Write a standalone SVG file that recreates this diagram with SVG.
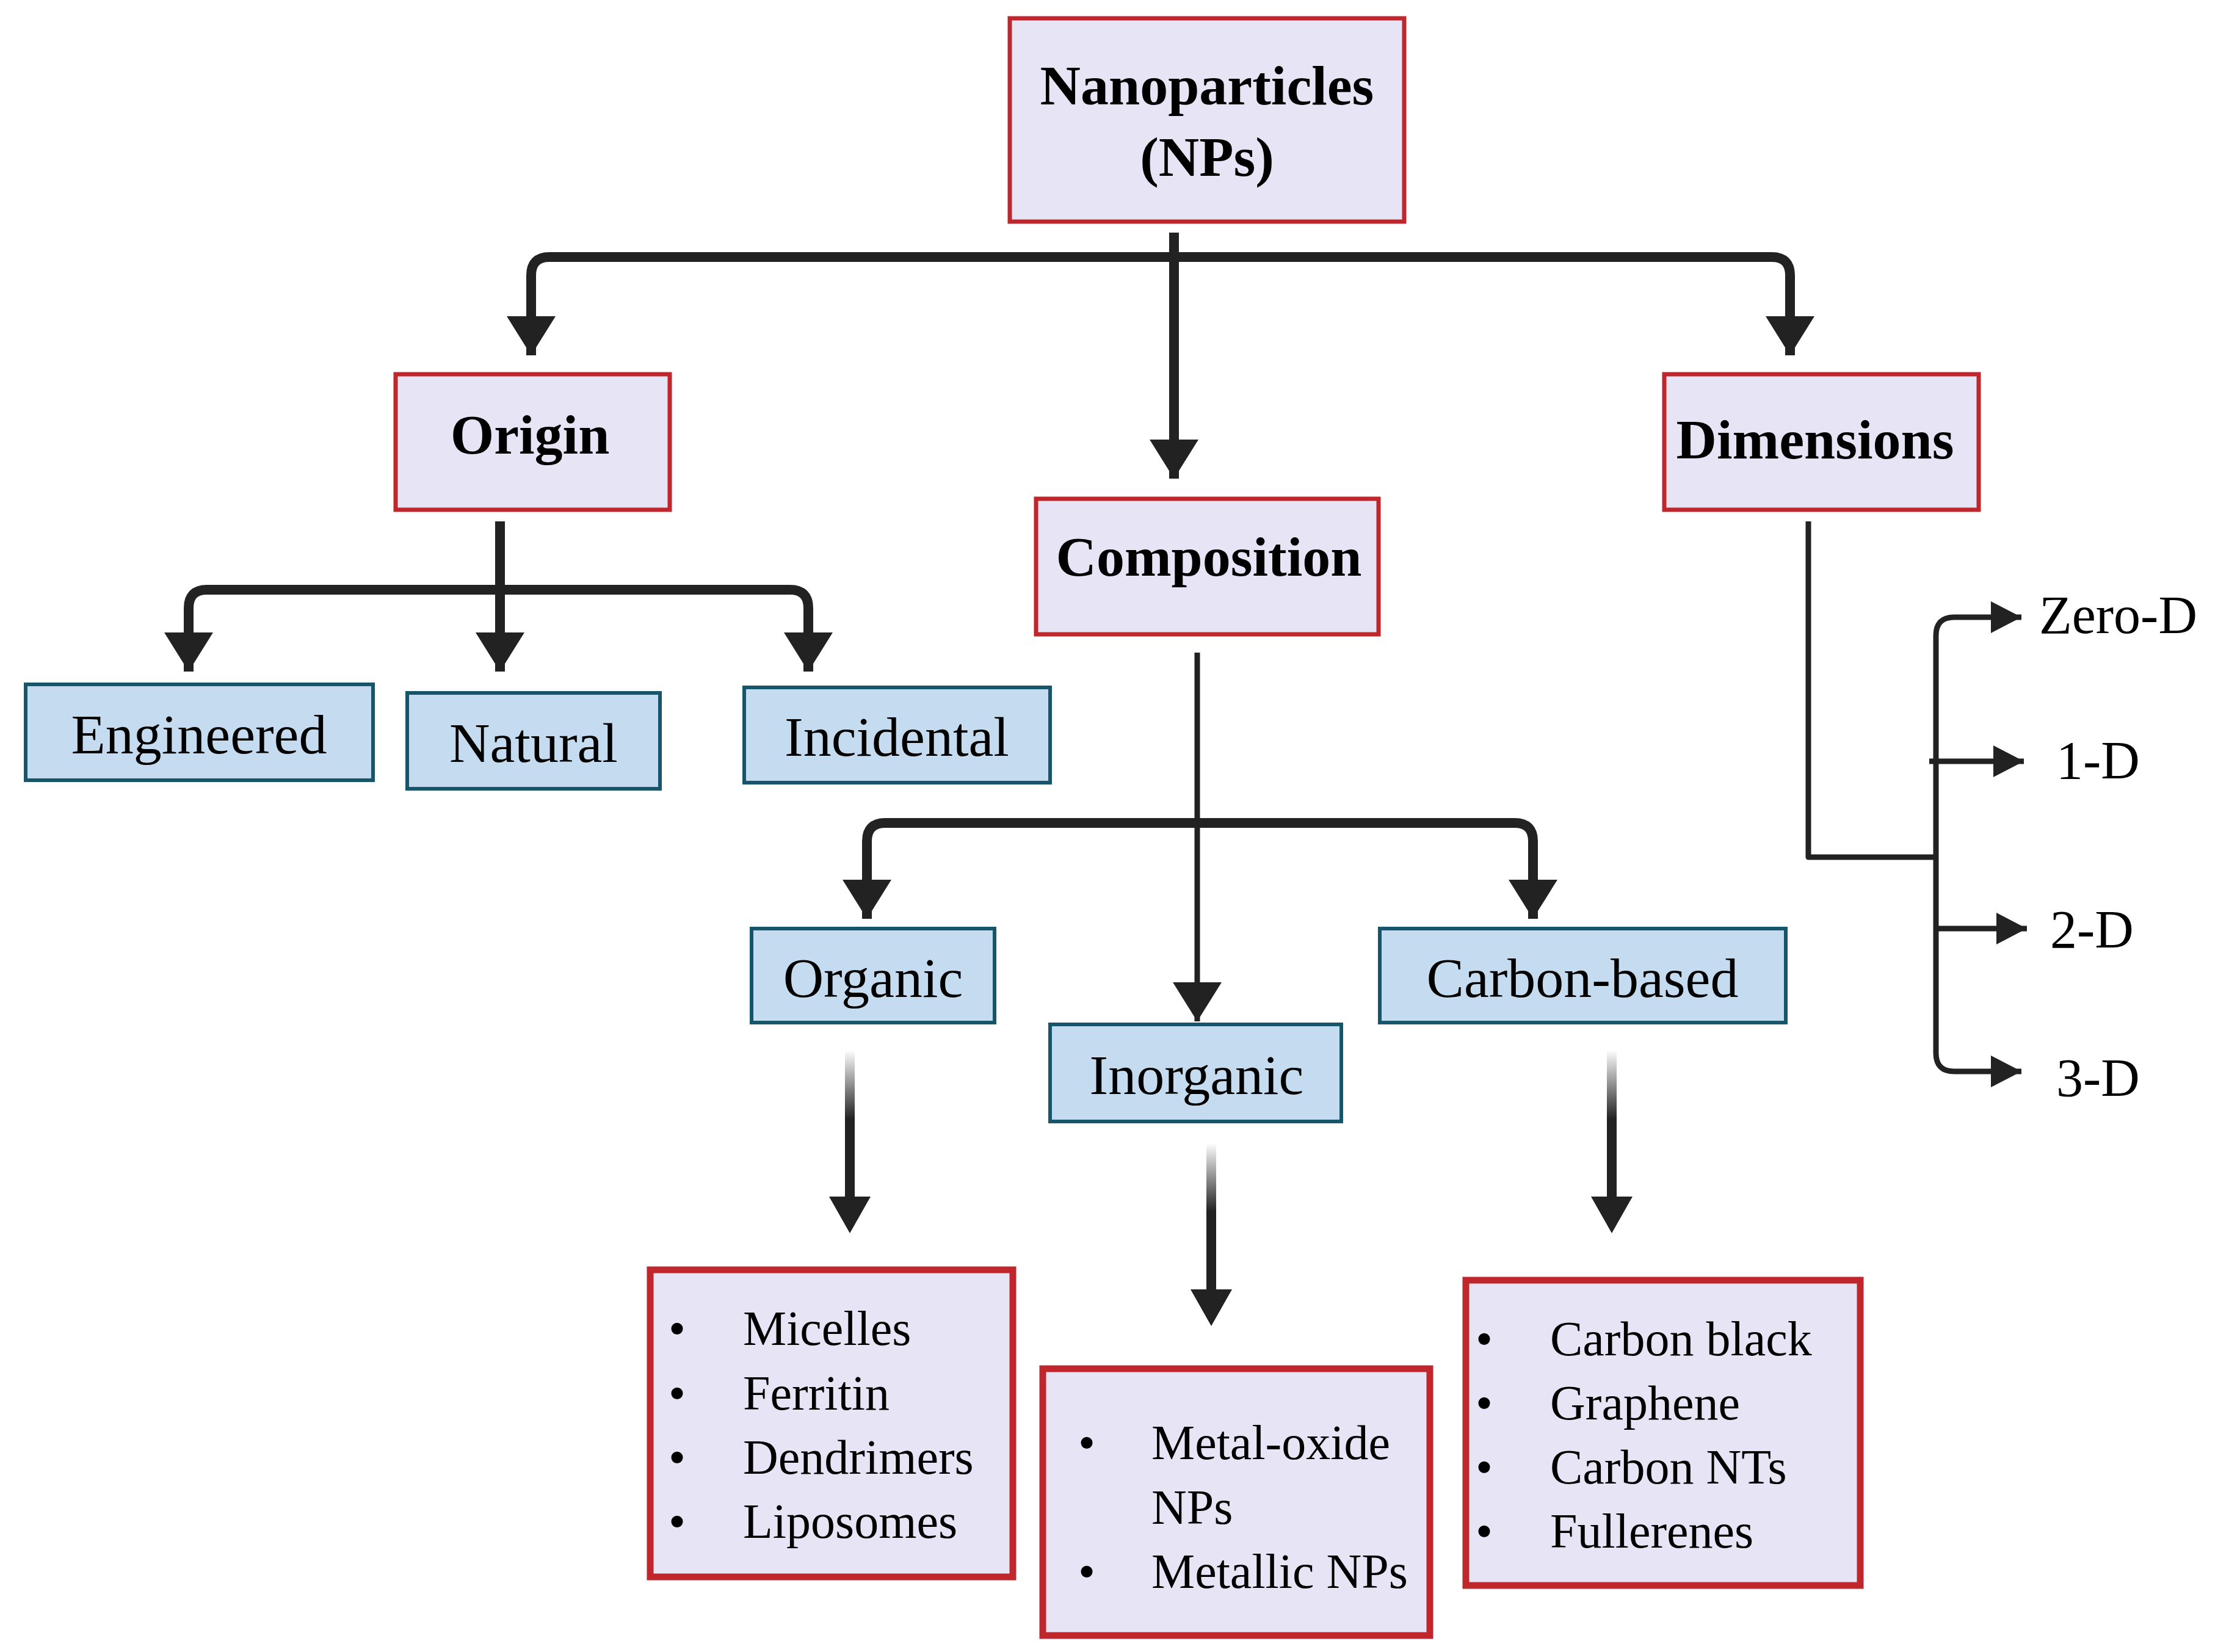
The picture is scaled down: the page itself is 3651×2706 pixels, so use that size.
<svg xmlns="http://www.w3.org/2000/svg" width="3651" height="2706" viewBox="0 0 3651 2706">
<style>
.hb{fill:#e6e4f5;stroke:#c0272d;stroke-width:7}
.lb{fill:#e6e4f5;stroke:#c0272d;stroke-width:11}
.bb{fill:#c5dcf0;stroke:#17566a;stroke-width:6}
.h{font-family:"Liberation Serif",serif;font-weight:bold;font-size:92px;fill:#000;text-anchor:middle;dominant-baseline:central}
.n{font-family:"Liberation Serif",serif;font-size:92px;fill:#000;text-anchor:middle;dominant-baseline:central}
.l{font-family:"Liberation Serif",serif;font-size:80px;fill:#000;dominant-baseline:central}
.d{font-family:"Liberation Serif",serif;font-size:88px;fill:#000;dominant-baseline:central}
.c{fill:none;stroke:#222;stroke-width:16;stroke-linejoin:round}
.t{fill:none;stroke:#222;stroke-width:9;stroke-linejoin:round}
.ah{fill:#222}
</style>
<defs>
<marker id="a" markerUnits="userSpaceOnUse" markerWidth="64" markerHeight="80" viewBox="0 0 64 80" refX="64" refY="40" orient="auto"><path d="M0,0 L64,40 L0,80 Z" fill="#222"/></marker>
<marker id="s" markerUnits="userSpaceOnUse" markerWidth="50" markerHeight="52" viewBox="0 0 50 52" refX="50" refY="26" orient="auto"><path d="M0,0 L50,26 L0,52 Z" fill="#222"/></marker>
<linearGradient id="g" x1="0" y1="0" x2="0" y2="1"><stop offset="0" stop-color="#fff"/><stop offset="0.45" stop-color="#222"/><stop offset="1" stop-color="#222"/></linearGradient>
</defs>
<g id="connectors">
<path class="c" d="M1923,381 V784" marker-end="url(#a)"/>
<path class="c" d="M1923,421 H900 Q870,421 870,451 V582" marker-end="url(#a)"/>
<path class="c" d="M1923,421 H2902 Q2932,421 2932,451 V582" marker-end="url(#a)"/>
<path class="c" d="M819,854 V1100" marker-end="url(#a)"/>
<path class="c" d="M819,966 H339 Q309,966 309,996 V1100" marker-end="url(#a)"/>
<path class="c" d="M819,966 H1294 Q1324,966 1324,996 V1100" marker-end="url(#a)"/>
<path class="t" d="M1961,1069 V1673" marker-end="url(#a)"/>
<path class="c" d="M1961,1348 H1450 Q1420,1348 1420,1378 V1505" marker-end="url(#a)"/>
<path class="c" d="M1961,1348 H2481 Q2511,1348 2511,1378 V1505" marker-end="url(#a)"/>
<rect x="1384" y="1720" width="16" height="250" fill="url(#g)"/>
<path class="ah" d="M1358,1960 L1426,1960 L1392,2020 Z"/>
<rect x="1976" y="1872" width="16" height="250" fill="url(#g)"/>
<path class="ah" d="M1950,2112 L2018,2112 L1984,2172 Z"/>
<rect x="2632" y="1720" width="16" height="250" fill="url(#g)"/>
<path class="ah" d="M2606,1960 L2674,1960 L2640,2020 Z"/>
<path class="t" d="M2962,854 V1404 H3171"/>
<path class="t" d="M3171,1041 Q3171,1011 3201,1011 H3311" marker-end="url(#s)"/>
<path class="t" d="M3171,1041 V1725 Q3171,1755 3201,1755 H3311" marker-end="url(#s)"/>
<path class="t" d="M3160,1247 H3315" marker-end="url(#s)"/>
<path class="t" d="M3171,1521 H3320" marker-end="url(#s)"/>
</g>
<g id="nanoparticles"><rect class="hb" x="1654" y="30" width="646" height="333"/><text class="h" x="1977" y="140">Nanoparticles</text><text class="h" x="1977" y="257">(NPs)</text></g>
<g id="origin"><rect class="hb" x="648" y="613" width="449" height="222"/><text class="h" x="868" y="712">Origin</text></g>
<g id="composition"><rect class="hb" x="1697" y="817" width="561" height="222"/><text class="h" x="1980" y="912">Composition</text></g>
<g id="dimensions"><rect class="hb" x="2726" y="613" width="515" height="222"/><text class="h" x="2973" y="720">Dimensions</text></g>
<g id="engineered"><rect class="bb" x="42" y="1121" width="569" height="157"/><text class="n" x="326" y="1203">Engineered</text></g>
<g id="natural"><rect class="bb" x="667" y="1135" width="414" height="157"/><text class="n" x="874" y="1217">Natural</text></g>
<g id="incidental"><rect class="bb" x="1219" y="1126" width="501" height="156"/><text class="n" x="1469" y="1207">Incidental</text></g>
<g id="organic"><rect class="bb" x="1231" y="1521" width="398" height="154"/><text class="n" x="1430" y="1602">Organic</text></g>
<g id="inorganic"><rect class="bb" x="1720" y="1678" width="477" height="159"/><text class="n" x="1960" y="1761">Inorganic</text></g>
<g id="carbon-based"><rect class="bb" x="2260" y="1521" width="665" height="154"/><text class="n" x="2592" y="1602">Carbon-based</text></g>
<g id="organic-list"><rect class="lb" x="1065" y="2080" width="594" height="503"/>
<text class="l" x="1095" y="2176">•</text><text class="l" x="1217" y="2176">Micelles</text>
<text class="l" x="1095" y="2282">•</text><text class="l" x="1217" y="2282">Ferritin</text>
<text class="l" x="1095" y="2387">•</text><text class="l" x="1217" y="2387">Dendrimers</text>
<text class="l" x="1095" y="2492">•</text><text class="l" x="1217" y="2492">Liposomes</text></g>
<g id="inorganic-list"><rect class="lb" x="1708" y="2242" width="634" height="437"/>
<text class="l" x="1766" y="2363">•</text><text class="l" x="1886" y="2363">Metal-oxide</text>
<text class="l" x="1886" y="2469">NPs</text>
<text class="l" x="1766" y="2574">•</text><text class="l" x="1886" y="2574">Metallic  NPs</text></g>
<g id="carbon-list"><rect class="lb" x="2401" y="2097" width="646" height="500"/>
<text class="l" x="2417" y="2193">•</text><text class="l" x="2539" y="2193">Carbon black</text>
<text class="l" x="2417" y="2298">•</text><text class="l" x="2539" y="2298">Graphene</text>
<text class="l" x="2417" y="2403">•</text><text class="l" x="2539" y="2403">Carbon NTs</text>
<text class="l" x="2417" y="2508">•</text><text class="l" x="2539" y="2508">Fullerenes</text></g>
<g id="dims">
<text class="d" x="3340" y="1007">Zero-D</text>
<text class="d" x="3368" y="1245">1-D</text>
<text class="d" x="3358" y="1522">2-D</text>
<text class="d" x="3368" y="1765">3-D</text></g>
</svg>
